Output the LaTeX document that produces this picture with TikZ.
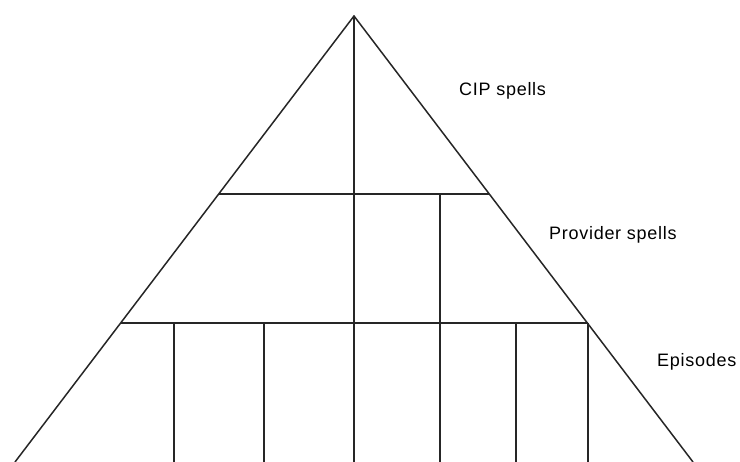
\documentclass[tikz,border=0pt]{standalone}
\usepackage{fontspec}
\setmainfont{Liberation Sans}[LetterSpace=4]
\begin{document}
\begin{tikzpicture}[x=1pt,y=-1pt,
  ln/.style={line width=1.5pt,black!85},
  lbl/.style={anchor=west,inner sep=0pt,font=\fontsize{18}{20}\selectfont}]
\useasboundingbox (0,0) rectangle (740,462);
% apex and base
\coordinate (apex) at (354,16);
\coordinate (bl) at (15,462);
\coordinate (br) at (693,462);
\draw[ln,line join=miter] (bl) -- (apex) -- (br);
% horizontal tiers
\coordinate (h1l) at (218.7,194);
\coordinate (h1r) at (489.3,194);
\coordinate (h2l) at (120.7,323);
\coordinate (h2r) at (588,323);
\draw[ln] (h1l) -- (h1r);
\draw[ln] (h2l) -- (h2r);
% central vertical
\coordinate (cb) at (354,462);
\draw[ln] (apex) -- (cb);
% provider split
\coordinate (p1t) at (440,194);
\coordinate (p1b) at (440,462);
\draw[ln] (p1t) -- (p1b);
% episode splits
\foreach \x/\n in {174/a,264/b,516/c,588/d}{
  \coordinate (e\n t) at (\x,323);
  \coordinate (e\n b) at (\x,462);
  \draw[ln] (e\n t) -- (e\n b);
}
% labels
\node[lbl] (cip) at (459,91) {CIP spells};
\node[lbl] (prov) at (549,235) {Provider spells};
\node[lbl] (epi) at (657,362) {Episodes};
\end{tikzpicture}
\end{document}
